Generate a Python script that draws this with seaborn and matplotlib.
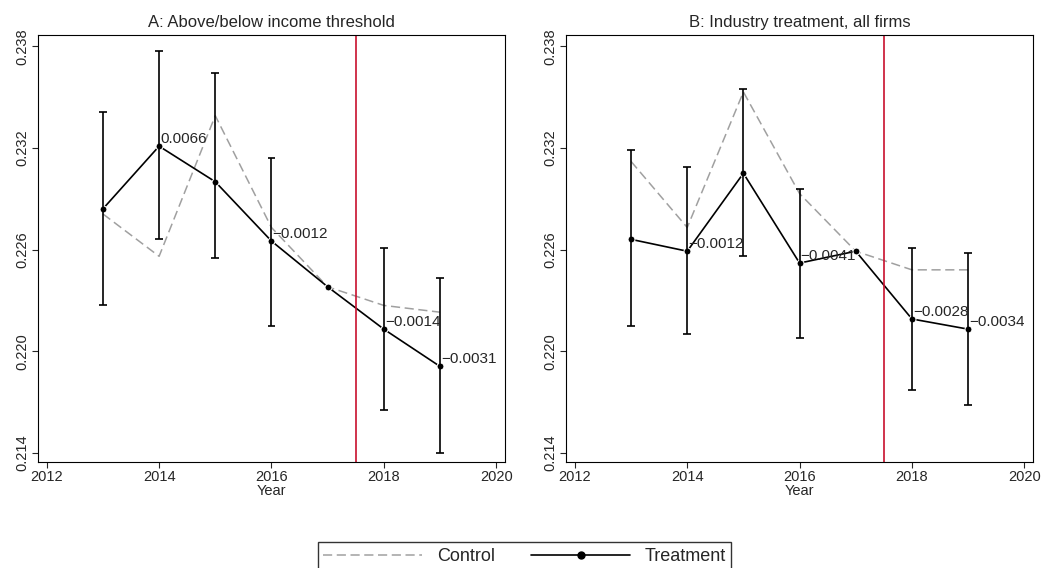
import matplotlib
matplotlib.use("Agg")
import matplotlib.pyplot as plt
import seaborn as sns
import pandas as pd
from matplotlib.lines import Line2D

years = [2013, 2014, 2015, 2016, 2017, 2018, 2019]

# Panel A
a_treat = [0.2284, 0.2321, 0.2300, 0.2265, 0.2238, 0.2213, 0.2191]
a_lo = [0.2227, 0.2266, 0.2255, 0.2215, None, 0.2165, 0.2140]
a_hi = [0.2341, 0.2377, 0.2364, 0.2314, None, 0.2261, 0.2243]
a_ctrl = [0.2281, 0.2256, 0.2339, 0.2273, 0.2238, 0.2227, 0.2223]
a_labels = {2014: "0.0066", 2016: "\u22120.0012", 2018: "\u22120.0014", 2019: "\u22120.0031"}

# Panel B
b_treat = [0.2266, 0.2259, 0.2305, 0.2252, 0.2259, 0.2219, 0.2213]
b_lo = [0.2215, 0.2210, 0.2256, 0.2208, None, 0.2177, 0.2168]
b_hi = [0.2319, 0.2309, 0.2355, 0.2296, None, 0.2261, 0.2258]
b_ctrl = [0.2312, 0.2273, 0.2353, 0.2293, 0.2259, 0.2248, 0.2248]
b_labels = {2014: "\u22120.0012", 2016: "\u22120.0041", 2018: "\u22120.0028", 2019: "\u22120.0034"}

sns.set_style("white")
plt.rcParams['font.family'] = ['Liberation Sans', 'DejaVu Sans']

fig, axes = plt.subplots(1, 2, figsize=(10.49, 5.68), dpi=100)
fig.subplots_adjust(left=0.036, right=0.985, top=0.938, bottom=0.187, wspace=0.13)

panels = [
    ("A: Above/below income threshold", a_treat, a_lo, a_hi, a_ctrl, a_labels),
    ("B: Industry treatment, all firms", b_treat, b_lo, b_hi, b_ctrl, b_labels),
]
for ax, (title, tr, lo, hi, ct, labs) in zip(axes, panels):
    df = pd.DataFrame({"year": years, "treat": tr, "ctrl": ct})
    sns.lineplot(data=df, x="year", y="ctrl", ax=ax, color="#a0a0a0",
                 linestyle=(0, (6, 3)), linewidth=1.1)
    sns.lineplot(data=df, x="year", y="treat", ax=ax, color="black",
                 marker="o", markersize=5, linewidth=1.2)
    for y, l, h in zip(years, lo, hi):
        if l is None:
            continue
        ax.vlines(y, l, h, color="black", linewidth=1.2)
        ax.hlines([l, h], y - 0.07, y + 0.07, color="black", linewidth=1.2)
    for y, v in zip(years, tr):
        if y in labs:
            ax.text(y + 0.02, v, labs[y], fontsize=11, va="bottom", ha="left")
    ax.axvline(2017.5, color="#c8102e", linewidth=1.2)
    ax.set_xlim(2011.84, 2020.16)
    ax.set_ylim(0.21347, 0.23865)
    ax.set_xticks([2012, 2014, 2016, 2018, 2020])
    ax.set_yticks([0.214, 0.220, 0.226, 0.232, 0.238])
    ax.set_yticklabels(["0.214", "0.220", "0.226", "0.232", "0.238"], rotation=90, va="center")
    ax.tick_params(axis="both", labelsize=10.5, length=4, left=True, bottom=True, pad=2)
    ax.set_xlabel("Year", fontsize=10.5, labelpad=0)
    ax.set_ylabel("")
    ax.set_title(title, fontsize=12, pad=6)
    for s in ax.spines.values():
        s.set_color("black")
        s.set_linewidth(0.8)

handles = [Line2D([], [], color="#a0a0a0", linestyle=(0, (6, 3)), linewidth=1.1),
           Line2D([], [], color="black", marker="o", markersize=5, linewidth=1.2)]
leg = fig.legend(handles, ["Control", "Treatment"], loc="lower center", ncol=2,
                 bbox_to_anchor=(0.5, -0.02), fontsize=13, frameon=True, fancybox=False,
                 handlelength=5.5, columnspacing=2, borderpad=0.3)
leg.get_frame().set_edgecolor("black")
fig.savefig("out.png", dpi=100)
